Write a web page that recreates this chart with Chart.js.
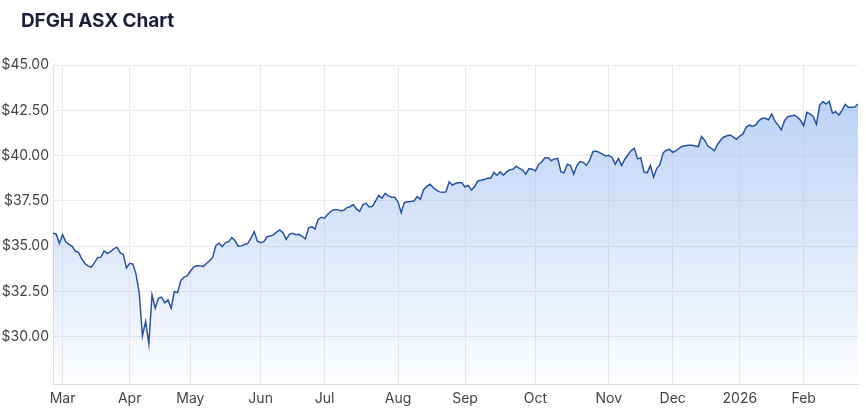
<!DOCTYPE html>
<html lang="en">
<head>
<meta charset="utf-8">
<title>DFGH ASX Chart</title>
<script src="https://cdn.jsdelivr.net/npm/chart.js@4.4.1/dist/chart.umd.min.js"></script>
<style>
  html, body { margin: 0; padding: 0; background: #fff; }
  .wrap { position: relative; width: 866px; height: 413px; }
  .chart-title {
    position: absolute; left: 21px; top: 11px; margin: 0;
    font: 700 19px/19px Inter, "Noto Sans", sans-serif;
    color: #1d2039; letter-spacing: -0.1px;
  }
  canvas { display: block; }
</style>
</head>
<body>
<div class="wrap">
  <h1 class="chart-title">DFGH ASX Chart</h1>
  <canvas id="priceChart" width="866" height="413"></canvas>
</div>
<script>
/* DFGH daily close, late Feb 2025 – late Feb 2026 (ASX trading days) */

// ---- Data ----
const startDate = "2025-02-26";
const asxHolidays = [
  "2025-04-18", "2025-04-21", "2025-04-25", "2025-06-09",
  "2025-12-25", "2025-12-26", "2026-01-01", "2026-01-26"
];
const closePrices = [
  35.72, 35.68, 35.15, 35.63, 35.25, 35.10, 35.00, 34.72, 34.66, 34.30,
  34.05, 33.90, 33.85, 34.10, 34.37, 34.40, 34.74, 34.60, 34.70, 34.85,
  34.95, 34.65, 34.55, 33.80, 34.06, 34.02, 33.45, 32.40, 30.06, 30.85,
  29.61, 32.31, 31.58, 32.13, 32.19, 31.88, 32.04, 31.58, 32.50, 32.44,
  33.10, 33.30, 33.36, 33.62, 33.85, 33.92, 33.93, 33.88, 34.05, 34.20,
  34.40, 35.05, 35.17, 34.98, 35.20, 35.25, 35.48, 35.30, 35.00, 35.02,
  35.10, 35.16, 35.45, 35.80, 35.28, 35.20, 35.25, 35.53, 35.56, 35.63,
  35.78, 35.90, 35.75, 35.38, 35.66, 35.72, 35.64, 35.66, 35.55, 35.40,
  36.00, 36.08, 35.95, 36.48, 36.60, 36.55, 36.76, 36.93, 37.02, 37.02,
  36.96, 36.98, 37.13, 37.18, 37.30, 37.05, 36.92, 37.30, 37.37, 37.17,
  37.20, 37.50, 37.80, 37.65, 37.92, 37.78, 37.72, 37.70, 37.45, 36.85,
  37.42, 37.45, 37.47, 37.50, 37.74, 37.60, 38.12, 38.30, 38.42, 38.25,
  38.10, 38.00, 37.98, 38.00, 38.55, 38.38, 38.46, 38.52, 38.50, 38.27,
  38.36, 38.10, 38.30, 38.60, 38.64, 38.68, 38.75, 38.75, 39.07, 38.92,
  39.10, 38.92, 39.10, 39.22, 39.25, 39.42, 39.30, 39.20, 38.98, 39.28,
  39.25, 39.15, 39.50, 39.66, 39.88, 39.88, 39.72, 39.82, 39.85, 39.10,
  39.05, 39.52, 39.45, 38.98, 39.45, 39.67, 39.63, 39.46, 39.75, 40.22,
  40.25, 40.18, 40.08, 39.98, 40.02, 39.90, 39.52, 39.85, 39.45, 39.80,
  40.05, 40.28, 40.40, 39.82, 39.88, 39.10, 39.05, 39.45, 38.82, 39.30,
  39.50, 40.15, 40.30, 40.35, 40.18, 40.27, 40.40, 40.52, 40.55, 40.57,
  40.57, 40.53, 40.50, 41.05, 40.85, 40.53, 40.42, 40.27, 40.60, 40.86,
  41.03, 41.10, 41.14, 41.02, 40.90, 41.08, 41.20, 41.58, 41.68, 41.62,
  41.70, 41.93, 42.06, 42.06, 41.98, 42.30, 41.90, 41.68, 41.42, 41.93,
  42.15, 42.18, 42.24, 42.12, 41.95, 41.65, 42.39, 42.30, 42.15, 41.73,
  42.79, 42.97, 42.85, 43.00, 42.34, 42.42, 42.24, 42.50, 42.83, 42.67,
  42.67, 42.68, 42.85
];
const yTicks = [30, 32.5, 35, 37.5, 40, 42.5, 45];
const monthNames = ["Jan", "Feb", "Mar", "Apr", "May", "Jun",
                    "Jul", "Aug", "Sep", "Oct", "Nov", "Dec"];

(function () {
  "use strict";

  // ---- Build trading-day categories (weekdays minus ASX holidays) ----
  function tradingDays(start, count, holidays) {
    const out = [];
    const d = new Date(start + "T00:00:00Z");
    while (out.length < count) {
      const iso = d.toISOString().slice(0, 10);
      const dow = d.getUTCDay();
      if (dow !== 0 && dow !== 6 && holidays.indexOf(iso) === -1) out.push(iso);
      d.setUTCDate(d.getUTCDate() + 1);
    }
    return out;
  }

  const dates = tradingDays(startDate, closePrices.length, asxHolidays);

  // month label only on the first trading day of each month (skip the partial first month)
  function monthLabel(i) {
    if (i === 0) return null;
    const m = dates[i].slice(5, 7);
    if (m === dates[i - 1].slice(5, 7)) return null;
    const mi = parseInt(m, 10) - 1;
    return mi === 0 ? dates[i].slice(0, 4) : monthNames[mi];
  }

  const ctx = document.getElementById("priceChart");
  const tickFont = { family: "Inter, 'Noto Sans', sans-serif", size: 14 };

  new Chart(ctx, {
    type: "line",
    data: {
      labels: dates,
      datasets: [{
        data: closePrices,
        borderColor: "#2a52a2",
        borderWidth: 1.5,
        pointRadius: 0,
        tension: 0,
        fill: "start",
        backgroundColor: (c) => {
          const area = c.chart.chartArea;
          if (!area) return "rgba(120,165,235,0.3)";
          const g = c.chart.ctx.createLinearGradient(0, area.top, 0, area.bottom);
          g.addColorStop(0, "rgba(120,165,235,0.55)");
          g.addColorStop(1, "rgba(120,165,235,0.02)");
          return g;
        }
      }]
    },
    options: {
      responsive: false,
      animation: false,
      layout: { padding: { top: 65, right: 8, left: 0, bottom: 0 } },
      plugins: { legend: { display: false }, tooltip: { enabled: false } },
      scales: {
        x: {
          type: "category",
          afterFit: (axis) => { axis.height = 29; },
          grid: { color: "#ebebeb", drawTicks: false },
          border: { color: "#dcdcdc" },
          ticks: {
            autoSkip: false,
            maxRotation: 0,
            padding: 6,
            color: "#444",
            font: tickFont,
            callback: (val, i) => monthLabel(i)
          }
        },
        y: {
          min: 27.4,
          max: 45,
          afterFit: (axis) => { axis.width = 53; },
          afterBuildTicks: (axis) => { axis.ticks = yTicks.map((v) => ({ value: v })); },
          grid: { color: "#ebebeb", drawTicks: false },
          border: { color: "#e3e3e3" },
          ticks: {
            padding: 4,
            color: "#444",
            font: tickFont,
            callback: (v) => "$" + Number(v).toFixed(2)
          }
        }
      }
    }
  });
})();
</script>
</body>
</html>
